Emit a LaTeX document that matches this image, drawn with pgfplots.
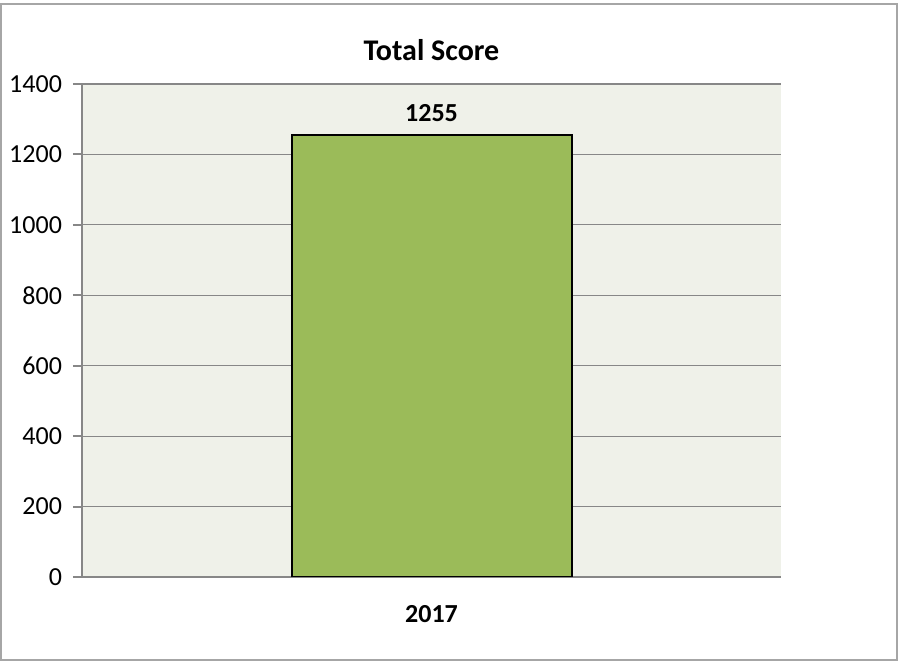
\documentclass[border=0pt]{standalone}
\usepackage{fontspec}
\setmainfont{Carlito}
\usepackage{pgfplots}
\pgfplotsset{compat=1.18}
\definecolor{bargreen}{HTML}{9BBB59}
\definecolor{plotbg}{HTML}{EFF1E9}
\definecolor{gridgray}{HTML}{878787}
\definecolor{framegray}{HTML}{A6A6A6}
\begin{document}
\begin{tikzpicture}
\useasboundingbox (0pt,0pt) rectangle (450pt,331pt);
\draw[framegray, line width=1pt] (0.5pt,329pt) rectangle (448.5pt,0.75pt);
\begin{axis}[
  at={(41pt,42.5pt)}, anchor=south west,
  width=349.5pt, height=246.5pt, scale only axis,
  xmin=-0.5, xmax=0.5, ymin=0, ymax=1400,
  ytick={0,200,...,1400},
  xtick={0}, xticklabels={\textbf{2017}},
  major x tick style={draw=none},
  extra x ticks={-0.5,0.5}, extra x tick labels={},
  extra x tick style={major tick length=4pt, tick style={gridgray, line width=1pt}},
  tick align=outside,
  major tick length=4.5pt,
  ytick style={gridgray, line width=1pt},
  axis lines*=left,
  axis line style={gridgray, line width=1pt},
  ymajorgrids, grid style={gridgray, line width=0.6pt},
  axis background/.style={fill=plotbg},
  ticklabel style={font=\fontsize{13}{15}\selectfont, text=black},
  /pgf/number format/assume math mode=true,
  /pgf/number format/1000 sep={},
  yticklabel style={xshift=-2pt},
  xticklabel style={yshift=-6pt},
  title={\textbf{Total Score}},
  title style={font=\fontsize{15}{17}\selectfont, yshift=2pt},
  nodes near coords={\textbf{\pgfmathprintnumber{\pgfplotspointmeta}}},
  nodes near coords style={font=\fontsize{13}{15}\selectfont, anchor=south, yshift=3pt},
]
\addplot[ybar, bar width=140pt, fill=bargreen, draw=black, line width=1pt] coordinates {(0,1255)};
\end{axis}
\end{tikzpicture}
\end{document}
